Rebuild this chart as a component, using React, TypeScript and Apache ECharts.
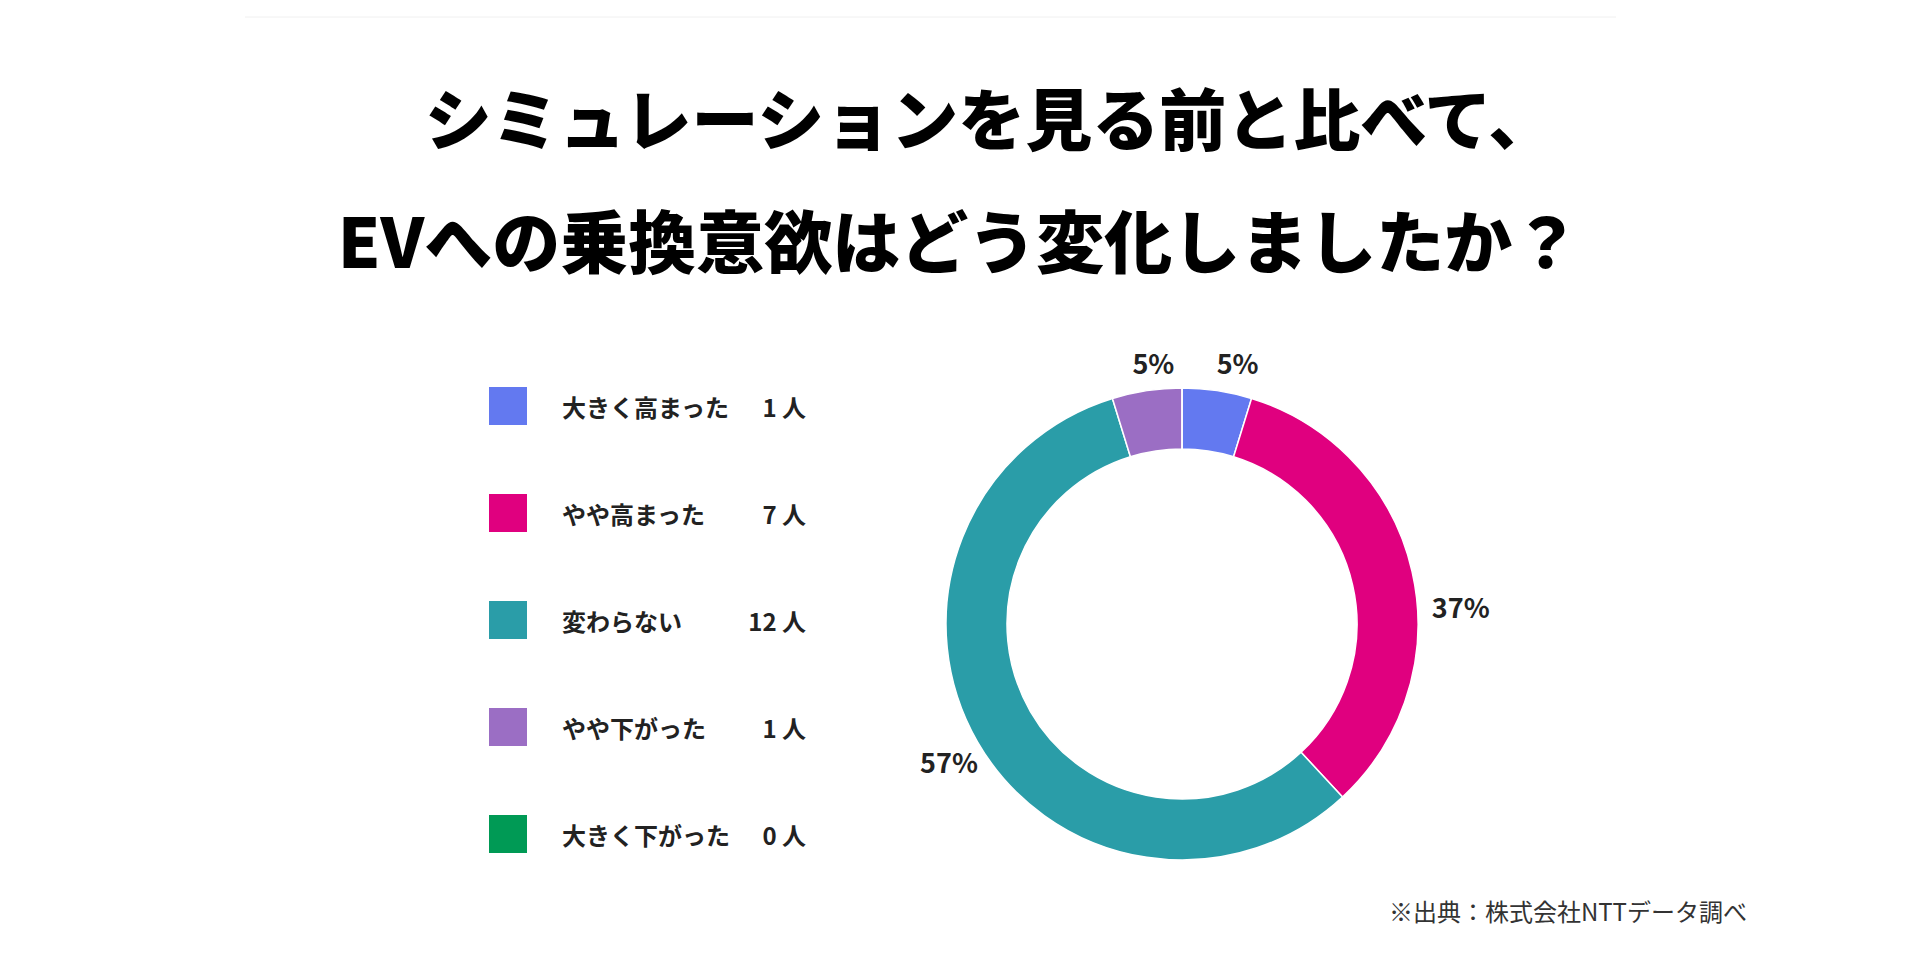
import React, { useEffect, useRef } from "react";
import * as echarts from "echarts";

const categories = ["大きく高まった", "やや高まった", "変わらない", "やや下がった", "大きく下がった"];
const counts = [1, 7, 12, 1, 0];
const percentLabels = ["5%", "37%", "57%", "5%", "0%"];
const colors = ["#6379F0", "#E0007F", "#2A9DA8", "#9B6EC4", "#009A55"];
const titleLines = ["シミュレーションを見る前と比べて、", "EVへの乗換意欲はどう変化しましたか？"];
const sourceNote = "※出典：株式会社NTTデータ調べ";

// label nudges (layout only)
const labelNudges: number[][] = [[-8, -18], [4, 37], [15, 14], [35, -18], [0, 0]];

const FONT = '"Noto Sans CJK JP", "Noto Sans", sans-serif';

export default function App() {
  const ref = useRef<HTMLDivElement>(null);

  useEffect(() => {
    if (!ref.current) return;
    const chart = echarts.init(ref.current, null, { renderer: "svg" });
    const data = categories.map((name, i) => ({
      name,
      value: counts[i],
      itemStyle: { color: colors[i] },
      label: { show: counts[i] > 0, offset: labelNudges[i] },
    }));
    chart.setOption({
      animation: false,
      backgroundColor: "#ffffff",
      textStyle: { fontFamily: FONT },
      legend: {
        orient: "vertical",
        left: 487,
        top: 385,
        padding: 0,
        itemWidth: 40,
        itemHeight: 40,
        itemGap: 65,
        icon: "rect",
        selectedMode: false,
        data: categories,
        formatter: (name: string) => {
          const i = categories.indexOf(name);
          return `{n|${name}}{c|${counts[i]} 人}`;
        },
        textStyle: {
          fontFamily: FONT,
          fontSize: 24,
          fontWeight: "bold",
          color: "#222",
          padding: [0, 0, 0, 29],
          rich: {
            n: { width: 182, fontSize: 24, fontWeight: "bold", color: "#222", fontFamily: FONT },
            c: { width: 62, align: "right", fontSize: 24, fontWeight: "bold", color: "#222", fontFamily: FONT },
          },
        },
      },
      series: [
        {
          type: "pie",
          center: [1182, 624],
          radius: [175, 236],
          startAngle: 90,
          clockwise: true,
          avoidLabelOverlap: false,
          stillShowZeroSum: true,
          itemStyle: { borderColor: "#ffffff", borderWidth: 1.5 },
          label: {
            show: true,
            position: "outside",
            formatter: (p: any) => percentLabels[p.dataIndex],
            fontFamily: FONT,
            fontSize: 27,
            fontWeight: "bold",
            color: "#222",
            distanceToLabelLine: 6,
          },
          labelLine: { show: false, length: 10, length2: 0 },
          emphasis: { disabled: true },
          data,
        },
      ],
      graphic: [
        {
          type: "line",
          shape: { x1: 245, y1: 17, x2: 1616, y2: 17 },
          style: { stroke: "#f0f0f0", lineWidth: 1 },
        },
        {
          type: "text",
          x: 990,
          y: 115,
          style: {
            text: titleLines[0],
            fontFamily: FONT,
            fontSize: 67,
            fontWeight: 900,
            fill: "#000",
            textAlign: "center",
            textVerticalAlign: "middle",
          },
        },
        {
          type: "text",
          x: 959,
          y: 238,
          style: {
            text: titleLines[1],
            fontFamily: FONT,
            fontSize: 68,
            fontWeight: 900,
            fill: "#000",
            textAlign: "center",
            textVerticalAlign: "middle",
          },
        },
        {
          type: "text",
          x: 1747,
          y: 910,
          style: {
            text: sourceNote,
            fontFamily: FONT,
            fontSize: 24,
            fill: "#333",
            textAlign: "right",
            textVerticalAlign: "middle",
          },
        },
      ],
    });
    return () => chart.dispose();
  }, []);

  return (
    <div
      ref={ref}
      style={{ position: "fixed", left: 0, top: 0, width: 1920, height: 980, background: "#fff" }}
    />
  );
}
